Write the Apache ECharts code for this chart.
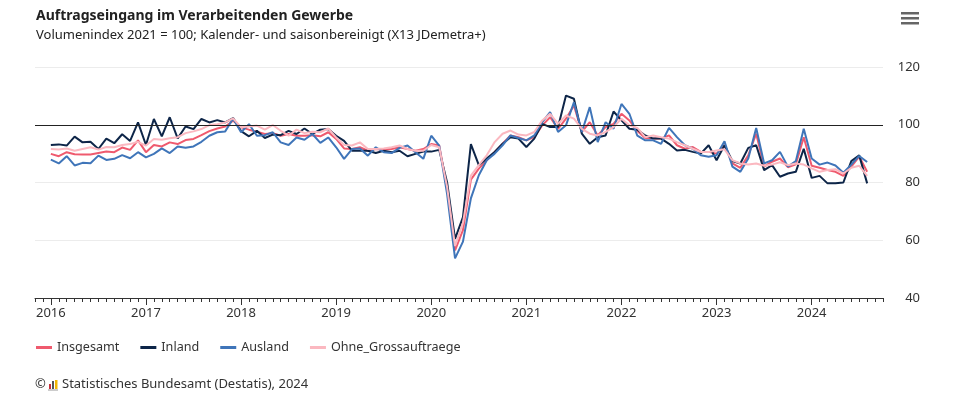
<!DOCTYPE html>
<html>
<head>
<meta charset="utf-8">
<script src="https://cdn.jsdelivr.net/npm/echarts@6/dist/echarts.min.js"></script>
<style>
  html, body { margin: 0; padding: 0; background: #fff; }
  #chart { width: 975px; height: 397px; }
</style>
</head>
<body>
<div id="chart"></div>
<script>
// Monatswerte Jan 2016 .. Aug 2024
var insgesamt = [
  89.9, 89.1, 90.5, 89.8, 89.7, 89.7, 90.2, 90.7, 90.5, 92.1, 91.3, 94.6,
  90.5, 93.0, 92.5, 93.9, 93.3, 94.7, 95.1, 96.4, 97.8, 98.7, 99.4, 101.4,
  99.1, 98.3, 97.6, 96.8, 97.1, 96.2, 96.8, 96.2, 96.2, 96.4, 96.0, 97.4,
  95.1, 91.8, 91.6, 92.2, 91.0, 91.6, 91.4, 91.6, 92.2, 91.6, 91.0, 91.6,
  93.3, 92.8, 78.0, 56.5, 63.5, 81.0, 84.8, 87.7, 90.6, 93.4, 96.3, 95.7,
  94.6, 95.7, 99.8, 102.6, 98.6, 102.1, 106.7, 97.5, 100.9, 96.3, 99.2, 100.3,
  103.8, 101.5, 97.8, 95.4, 95.2, 95.2, 96.3, 92.9, 91.7, 92.3, 90.6, 90.6,
  90.0, 92.9, 86.6, 85.1, 89.4, 96.9, 85.5, 87.2, 88.3, 85.3, 86.3, 95.7,
  85.8, 85.1, 84.3, 83.7, 82.3, 85.5, 89.0, 83.7
]
var inland = [
  93.0, 93.2, 92.8, 95.9, 93.9, 94.1, 91.6, 95.2, 93.6, 96.7, 94.4, 100.8,
  93.0, 102.0, 96.0, 102.6, 95.3, 99.4, 98.5, 102.0, 100.8, 101.6, 100.8, 102.3,
  97.8, 96.0, 97.9, 95.4, 96.6, 96.4, 97.9, 96.8, 98.7, 96.8, 98.3, 98.5,
  96.2, 94.4, 91.0, 91.0, 91.0, 90.2, 91.0, 90.5, 91.0, 89.1, 89.9, 90.7,
  90.7, 91.3, 80.0, 60.5, 68.0, 93.3, 86.0, 88.3, 90.6, 93.4, 95.7, 95.2,
  92.3, 95.2, 100.3, 99.2, 99.2, 110.1, 109.0, 96.9, 93.4, 95.7, 96.3, 104.6,
  101.5, 98.6, 98.3, 96.3, 95.2, 95.2, 93.4, 91.1, 91.3, 90.6, 90.0, 92.9,
  87.7, 92.9, 87.4, 86.6, 92.0, 92.9, 84.3, 86.0, 82.0, 83.1, 83.7, 91.7,
  81.6, 82.3, 79.7, 79.7, 80.0, 87.4, 89.4, 79.7
]
var ausland = [
  87.9, 86.6, 89.1, 85.9, 86.8, 86.7, 89.3, 87.8, 88.2, 89.5, 88.4, 90.5,
  88.7, 89.9, 91.8, 90.2, 92.5, 92.0, 92.5, 94.1, 96.2, 97.4, 97.7, 102.2,
  97.4, 100.2, 96.2, 96.4, 97.4, 93.9, 93.0, 95.6, 94.8, 96.8, 93.7, 95.6,
  92.2, 88.2, 91.6, 91.8, 89.3, 92.2, 90.5, 90.2, 92.0, 92.8, 90.5, 88.2,
  96.2, 92.8, 76.0, 53.7, 59.5, 74.5, 82.5, 87.7, 90.0, 92.9, 96.3, 95.4,
  94.6, 96.3, 100.9, 104.4, 97.5, 99.8, 107.8, 97.5, 106.1, 94.0, 100.9, 98.6,
  107.2, 103.8, 96.2, 94.6, 94.6, 93.4, 98.9, 95.7, 92.9, 91.7, 89.4, 88.9,
  89.4, 94.3, 85.5, 83.7, 88.3, 98.9, 86.6, 87.7, 90.6, 85.5, 87.4, 98.6,
  88.3, 86.2, 86.9, 85.9, 83.4, 86.2, 89.2, 87.1
]
var ohneGross = [
  91.6, 91.4, 91.8, 91.0, 91.6, 92.2, 91.4, 92.3, 92.2, 93.0, 93.3, 94.1,
  92.8, 95.1, 94.8, 95.3, 95.7, 97.1, 97.7, 98.5, 99.9, 100.2, 100.8, 102.2,
  99.1, 99.4, 99.7, 98.3, 99.9, 97.9, 96.2, 98.3, 97.1, 97.6, 97.4, 98.7,
  95.6, 93.0, 92.8, 93.9, 91.6, 91.6, 91.8, 92.2, 92.8, 91.6, 91.0, 91.0,
  93.0, 92.2, 78.5, 58.0, 66.0, 82.4, 86.0, 89.4, 94.0, 96.9, 98.0, 96.6,
  96.3, 97.5, 101.5, 103.8, 100.3, 103.2, 102.1, 98.6, 96.9, 96.3, 97.5, 99.2,
  102.1, 99.8, 98.9, 95.7, 96.3, 95.7, 95.2, 94.0, 92.9, 91.7, 90.6, 90.6,
  91.1, 91.5, 87.7, 86.6, 86.2, 86.6, 85.8, 86.2, 87.0, 86.0, 86.6, 86.2,
  84.9, 83.7, 84.3, 84.6, 83.1, 85.1, 85.8, 82.3
]
var yTicks = [40, 60, 80, 100, 120]

// Achse: Nov 2015 .. Okt 2024 (Monate)
var months = []
for (var y = 2015; y <= 2024; y++) {
  for (var m = 1; m <= 12; m++) {
    if (y === 2015 && m < 11) continue
    if (y === 2024 && m > 10) continue
    months.push(y + '-' + (m < 10 ? '0' + m : m))
  }
}
function pad (arr) {
  return [null, null].concat(arr, [null, null])
}
var isJan = function (idx, val) { return /-01$/.test(val) }

var font = '"Noto Sans", sans-serif'
var chart = echarts.init(document.getElementById('chart'))
chart.setOption({
  animation: false,
  textStyle: { fontFamily: font },
  title: {
    left: 31,
    top: 4,
    text: 'Auftragseingang im Verarbeitenden Gewerbe',
    subtext: 'Volumenindex 2021 = 100; Kalender- und saisonbereinigt (X13 JDemetra+)',
    itemGap: 6,
    textStyle: { fontSize: 14, fontWeight: 'bold', color: '#222', fontFamily: font },
    subtextStyle: { fontSize: 13, color: '#222', fontFamily: font }
  },
  legend: {
    left: 31,
    top: 336,
    icon: 'rect',
    itemWidth: 16,
    itemHeight: 3,
    itemGap: 21,
    textStyle: { fontSize: 12.6, color: '#333' },
    data: ['Insgesamt', 'Inland', 'Ausland', 'Ohne_Grossauftraege']
  },
  grid: { left: 35, right: 92, top: 67, bottom: 99 },
  xAxis: [
    {
      type: 'category',
      data: months,
      boundaryGap: false,
      axisLine: { lineStyle: { color: '#333', width: 1 } },
      axisTick: { interval: 0, length: 4, lineStyle: { color: '#333' } },
      axisLabel: {
        interval: isJan,
        margin: 9,
        fontSize: 13,
        color: '#333',
        formatter: function (v) { return v.slice(0, 4) }
      },
      splitLine: { show: false }
    },
    {
      type: 'category',
      data: months,
      position: 'bottom',
      boundaryGap: false,
      axisLine: { show: false },
      axisTick: { interval: isJan, length: 7, lineStyle: { color: '#333' } },
      axisLabel: { show: false },
      splitLine: { show: false }
    }
  ],
  yAxis: {
    type: 'value',
    position: 'right',
    min: yTicks[0],
    max: yTicks[yTicks.length - 1],
    interval: 20,
    axisLine: { show: false },
    axisTick: { show: false },
    axisLabel: { align: 'right', margin: 37, fontSize: 13, color: '#333' },
    splitLine: { lineStyle: { color: '#ececec', width: 1 } }
  },
  series: [
    {
      name: 'Insgesamt',
      type: 'line',
      data: pad(insgesamt),
      color: '#ef5a6e',
      showSymbol: false,
      lineStyle: { width: 2 },
      markLine: {
        silent: true,
        symbol: 'none',
        label: { show: false },
        lineStyle: { color: '#222', width: 1, type: 'solid' },
        data: [{ yAxis: 100 }]
      }
    },
    {
      name: 'Inland',
      type: 'line',
      data: pad(inland),
      color: '#0d2548',
      showSymbol: false,
      lineStyle: { width: 2 }
    },
    {
      name: 'Ausland',
      type: 'line',
      data: pad(ausland),
      color: '#3f75b9',
      showSymbol: false,
      lineStyle: { width: 2 }
    },
    {
      name: 'Ohne_Grossauftraege',
      type: 'line',
      data: pad(ohneGross),
      color: '#fbb8c0',
      showSymbol: false,
      lineStyle: { width: 2 }
    }
  ],
  graphic: [
    // Menue-Symbol
    { type: 'rect', left: 901, top: 12, shape: { width: 18, height: 2.5 }, style: { fill: '#666' } },
    { type: 'rect', left: 901, top: 17, shape: { width: 18, height: 2.5 }, style: { fill: '#666' } },
    { type: 'rect', left: 901, top: 22, shape: { width: 18, height: 2.5 }, style: { fill: '#666' } },
    // Quelle
    { type: 'text', left: 35, top: 378, style: { text: '©', font: '13px ' + font, fill: '#333' } },
    { type: 'rect', left: 49, top: 384, shape: { width: 2, height: 5 }, style: { fill: '#c8303c' } },
    { type: 'rect', left: 52, top: 381, shape: { width: 2, height: 8 }, style: { fill: '#555' } },
    { type: 'rect', left: 55, top: 380, shape: { width: 2.5, height: 9 }, style: { fill: '#f2b705' } },
    { type: 'rect', left: 48, top: 389.5, shape: { width: 10, height: 1 }, style: { fill: '#999' } },
    { type: 'text', left: 62, top: 378, style: { text: 'Statistisches Bundesamt (Destatis), 2024', font: '13px ' + font, fill: '#333' } }
  ]
})
</script>
</body>
</html>
